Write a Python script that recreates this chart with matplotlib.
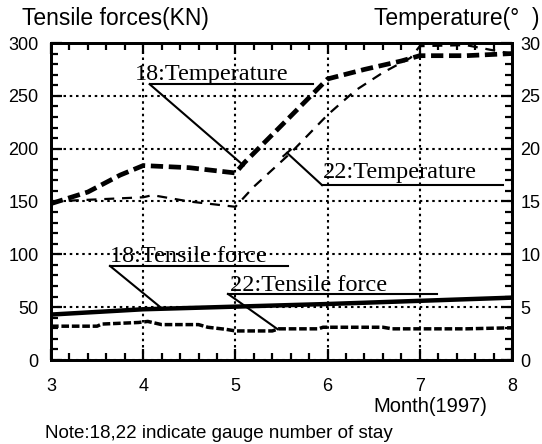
import matplotlib
matplotlib.use("Agg")
import matplotlib.pyplot as plt
from matplotlib.ticker import MultipleLocator

# ---- data ----
months_t18 = [3.0, 3.4, 3.75, 4.0, 4.5, 5.0, 5.1, 5.5, 6.0, 6.4, 6.8, 7.0, 7.5, 8.0]
temp18 = [14.8, 15.9, 17.5, 18.4, 18.2, 17.7, 18.7, 22.2, 26.6, 27.5, 28.3, 28.8, 28.8, 29.0]

months_t22 = [3.0, 3.5, 4.0, 4.1, 4.5, 5.0, 5.2, 5.6, 6.0, 6.3, 6.6, 6.9, 7.0, 7.5, 7.8, 8.0]
temp22 = [15.0, 15.2, 15.4, 15.6, 15.0, 14.5, 16.4, 19.6, 23.2, 25.5, 27.2, 28.6, 29.7, 29.8, 29.3, 29.0]

months_f18 = [3.0, 4.0, 5.0, 6.0, 7.0, 8.0]
force18 = [43.0, 48.0, 50.5, 53.0, 56.0, 59.0]

months_f22 = [3.0, 3.5, 3.55, 3.95, 4.05, 4.2, 4.6, 4.7, 4.9, 5.0, 5.4, 5.47,
              5.9, 5.95, 6.6, 6.7, 7.5, 8.0]
force22 = [32.0, 32.0, 34.0, 35.5, 36.5, 33.5, 33.5, 31.0, 29.0, 27.5, 27.5, 29.5,
           29.5, 31.0, 31.0, 29.5, 29.5, 30.5]

x_ticks = [3, 4, 5, 6, 7, 8]
left_ticks = [0, 50, 100, 150, 200, 250, 300]
right_ticks = [0, 5, 10, 15, 20, 25, 30]

sans = "Liberation Sans"
serif = "Liberation Serif"

fig = plt.figure(figsize=(5.42, 4.44), dpi=100)
ax = fig.add_axes([51/542, 84/444, 461/542, 317/444])
ax2 = ax.twinx()

ax.set_xlim(3, 8)
ax.set_ylim(0, 300)
ax2.set_ylim(0, 30)

ax.set_xticks(x_ticks)
ax.set_yticks(left_ticks)
ax2.set_yticks(right_ticks)
ax.xaxis.set_minor_locator(MultipleLocator(0.2))
ax.yaxis.set_minor_locator(MultipleLocator(10))
ax2.yaxis.set_minor_locator(MultipleLocator(1))

ax.grid(True, which="major", color="black", linestyle=(0, (1.2, 1.8)), linewidth=1.5)

for a in (ax, ax2):
    for s in a.spines.values():
        s.set_linewidth(2.0)
ax.tick_params(which="both", direction="in", top=True, right=False, width=1.6, colors="black")
ax.tick_params(which="major", length=8, labelsize=13, pad=9)
ax.tick_params(which="minor", length=5)
ax.tick_params(axis="x", which="major", pad=13)
ax2.tick_params(which="both", direction="in", width=1.6)
ax2.tick_params(which="major", length=8, labelsize=13, pad=6)
ax2.tick_params(which="minor", length=5)
for lab in ax.get_xticklabels() + ax.get_yticklabels() + ax2.get_yticklabels():
    lab.set_fontfamily(sans)

# lines
ax2.plot(months_t18, temp18, color="black", lw=3.4, dashes=(2.6, 1.2), solid_capstyle="butt")
ax2.plot(months_t22, temp22, color="black", lw=1.6, dashes=(4.5, 3.5))
ax.plot(months_f18, force18, color="black", lw=3.2)
ax.plot(months_f22, force22, color="black", lw=2.5, dashes=(2.2, 0.8))

# annotations (data coords of left axis)
def label(text, tx, ty, ux0, ux1, uy, px, py):
    ax.text(tx, ty, text, fontsize=17.5, family=serif, ha="left", va="baseline")
    ax.plot([ux0, ux1], [uy, uy], color="black", lw=1.5)
    ax.plot([ux0, px], [uy, py], color="black", lw=1.5)

label("18:Temperature", 3.91, 265, 4.07, 5.84, 261, 5.09, 184)
label("22:Temperature", 5.95, 172, 5.94, 7.90, 165.5, 5.56, 196)
ax.plot([5.52, 5.60], [193, 199], color="black", lw=1.5)
label("18:Tensile force", 3.64, 92.5, 3.64, 5.57, 89, 4.20, 49)
label("22:Tensile force", 4.94, 65.5, 4.92, 7.19, 62.5, 5.46, 29)

fig.text(22/542, 1 - 18/444, "Tensile forces(KN)", fontsize=16.5, family=sans,
         ha="left", va="center")
fig.text(540/542, 1 - 18/444, "Temperature(\u00b0  )", fontsize=16.5, family=sans,
         ha="right", va="center")
fig.text(487/542, 1 - 406/444, "Month(1997)", fontsize=14.5, family=sans,
         ha="right", va="center")
fig.text(45/542, 1 - 433/444, "Note:18,22 indicate gauge number of stay", fontsize=13.5,
         family=sans, ha="left", va="center")

fig.savefig("out.png", dpi=100)
